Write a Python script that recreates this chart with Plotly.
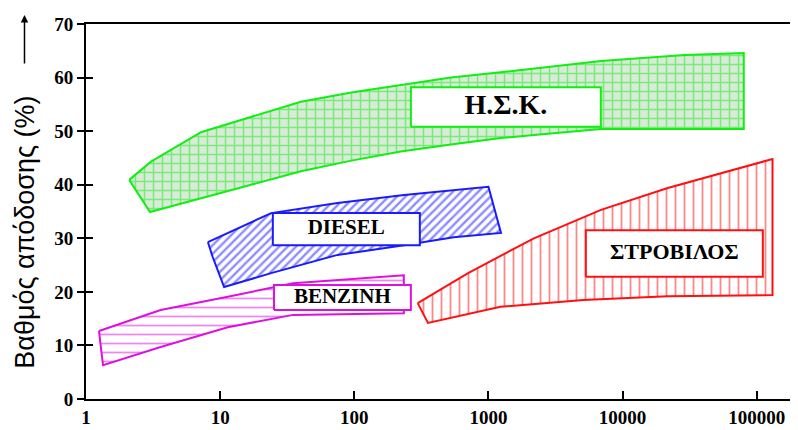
import plotly.graph_objects as go

# ---- data (x: size, log scale; y: efficiency %) ----
hsk_upper_x = [2.1, 3.05, 7.2, 17, 40, 95, 222, 525, 1234, 6900, 29000, 80000]
hsk_upper_y = [40.9, 44.3, 49.8, 52.6, 55.5, 57.2, 58.6, 60.0, 61.0, 63.1, 64.2, 64.6]
hsk_lower_x = [80000, 6900, 2180, 1234, 525, 222, 95, 40, 17, 7.2, 3.0]
hsk_lower_y = [50.4, 50.4, 49.3, 48.7, 47.5, 46.2, 44.5, 42.5, 40.0, 37.5, 34.9]

diesel_upper_x = [8.1, 24, 75, 235, 1000]
diesel_upper_y = [29.3, 34.7, 36.6, 38.1, 39.6]
diesel_lower_x = [1240, 550, 235, 75, 24, 10.7, 8.8]
diesel_lower_y = [31.0, 30.2, 28.7, 26.9, 23.5, 20.9, 26.5]

benz_upper_x = [1.25, 3.6, 11.4, 35, 234]
benz_upper_y = [12.7, 16.6, 19.1, 21.6, 23.1]
benz_lower_x = [234, 35, 11.4, 3.6, 1.34, 1.3]
benz_lower_y = [16.0, 15.7, 13.4, 9.7, 6.3, 9.0]

turb_upper_x = [297, 705, 2180, 6900, 21700, 67000, 131000]
turb_upper_y = [17.9, 23.5, 30.0, 35.3, 39.4, 42.7, 44.8]
turb_lower_x = [131000, 21700, 5100, 1230, 354]
turb_lower_y = [19.4, 19.2, 18.5, 17.2, 14.2]

labels = ["Η.Σ.Κ.", "DIESEL", "ΒΕΝΖΙΝΗ", "ΣΤΡΟΒΙΛΟΣ"]
label_box_x = [(264, 6880), (24.7, 308), (25.2, 264), (5320, 111000)]
label_box_y = [(50.8, 58.2), (28.7, 34.7), (16.6, 21.3), (22.8, 31.5)]
label_text_x = [1350, 87, 81.5, 24300]
label_text_y = [54.5, 31.7, 18.95, 27.2]
label_size = [28, 21, 21, 22]

colors = ["#11ee11", "#1a1aff", "#dd11dd", "#ff1010"]
shapes = ["+", "/", "-", "|"]
bgs = ["#d9ead9", "#ffffff", "#ffffff", "#ffffff"]
psize = [9, 6, 9, 9]
solid = [0.3, 0.4, 0.2, 0.2]

bands = [
    (hsk_upper_x, hsk_upper_y, hsk_lower_x, hsk_lower_y),
    (diesel_upper_x, diesel_upper_y, diesel_lower_x, diesel_lower_y),
    (benz_upper_x, benz_upper_y, benz_lower_x, benz_lower_y),
    (turb_upper_x, turb_upper_y, turb_lower_x, turb_lower_y),
]

fig = go.Figure()
for i, (ux, uy, lx, ly) in enumerate(bands):
    xs = ux + lx + [ux[0]]
    ys = uy + ly + [uy[0]]
    fig.add_trace(go.Scatter(
        x=xs, y=ys, mode="lines", fill="toself",
        line=dict(color=colors[i], width=2),
        fillcolor=bgs[i],
        fillpattern=dict(shape=shapes[i], fgcolor=colors[i], bgcolor=bgs[i],
                         size=psize[i], solidity=solid[i]),
        hoverinfo="skip", showlegend=False))
    bx0, bx1 = label_box_x[i]
    by0, by1 = label_box_y[i]
    fig.add_trace(go.Scatter(
        x=[bx0, bx1, bx1, bx0, bx0], y=[by0, by0, by1, by1, by0],
        mode="lines", fill="toself", fillcolor="white",
        line=dict(color=colors[i], width=2),
        hoverinfo="skip", showlegend=False))
    fig.add_trace(go.Scatter(
        x=[label_text_x[i]], y=[label_text_y[i]], mode="text",
        text=[labels[i]],
        textfont=dict(family="Liberation Serif", size=label_size[i],
                      color="black", weight="bold"),
        hoverinfo="skip", showlegend=False))

# dummy trace for the inner-tick overlay axis
fig.add_trace(go.Scatter(x=[10], y=[0], yaxis="y2", mode="markers",
                         marker=dict(opacity=0), hoverinfo="skip",
                         showlegend=False))

tick_font = dict(family="Liberation Serif", size=19, color="black", weight="bold")

# page body adds an 8px offset, so the figure is sized 790x422
fig.update_layout(
    width=790, height=422,
    margin=dict(l=78, r=1, t=16, b=31, autoexpand=False),
    paper_bgcolor="white", plot_bgcolor="white",
    xaxis=dict(type="log", range=[0, 5.3], automargin=False,
               tickvals=[1, 10, 100, 1000, 10000, 100000],
               ticktext=["1", "10", "100", "1000", "10000", "100000"],
               ticks="inside", ticklen=8, tickwidth=2, tickcolor="black",
               showline=True, linecolor="black", linewidth=2, mirror=True,
               showgrid=False, zeroline=False, tickfont=tick_font),
    yaxis=dict(range=[0, 70], tickvals=[0, 10, 20, 30, 40, 50, 60, 70],
               automargin=False,
               ticks="outside", ticklen=7, tickwidth=2, tickcolor="black",
               showline=True, linecolor="black", linewidth=2,
               showgrid=False, zeroline=False, tickfont=tick_font),
    yaxis2=dict(range=[0, 70], overlaying="y", side="left", automargin=False,
                tickvals=[0, 10, 20, 30, 40, 50, 60, 70],
                ticks="inside", ticklen=7, tickwidth=2, tickcolor="black",
                showticklabels=False, showline=False, showgrid=False,
                zeroline=False),
    annotations=[
        dict(text="Βαθμός απόδοσης (%)", xref="paper", yref="paper",
             x=-0.085, y=0.445, textangle=-90, showarrow=False,
             xanchor="center", yanchor="middle",
             font=dict(family="Liberation Sans", size=27, color="black")),
        dict(text="", xref="paper", yref="paper", x=-0.0865, y=1.024,
             ax=0, ay=50, showarrow=True, arrowhead=2, arrowsize=1,
             arrowwidth=1.5, arrowcolor="black"),
    ],
)

fig.write_html("out.html")
